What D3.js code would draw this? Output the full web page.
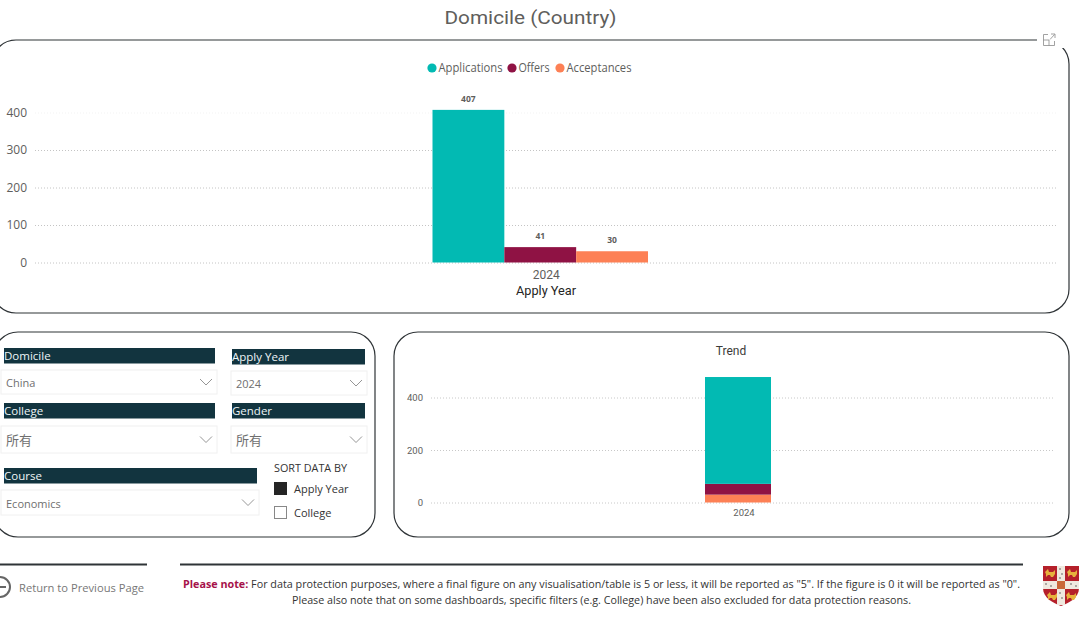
<!DOCTYPE html>
<html><head><meta charset="utf-8">
<script src="https://cdn.jsdelivr.net/npm/d3@7/dist/d3.min.js"></script>
<style>html,body{margin:0;padding:0;background:#fff;overflow:hidden}svg{display:block}text{font-family:"Open Sans","Noto Sans",sans-serif}</style>
</head><body><svg id="c" width="1080" height="642"></svg>
<script>
const years = ["2024"];
const seriesNames = ["Applications","Offers","Acceptances"];
const applications = [407];
const offers = [41];
const acceptances = [30];
const seriesColors = ["#02BAB3","#8F1244","#FD8055"];
const mainTicks = [0,100,200,300,400];
const trendTicks = [0,200,400];
const legendCirclesX = [432,512,560];
const slicers = [
 {title:"Domicile",value:"China",hx:4,hy:348,hw:211,bx:1,by:370,bw:216,bh:24},
 {title:"Apply Year",value:"2024",hx:232,hy:349,hw:133,bx:231,by:371,bw:136,bh:24},
 {title:"College",value:"所有",hx:4,hy:403,hw:211,bx:1,by:426,bw:216,bh:27},
 {title:"Gender",value:"所有",hx:232,hy:403,hw:133,bx:231,by:426,bw:136,bh:27},
 {title:"Course",value:"Economics",hx:4,hy:468,hw:253,bx:1,by:490,bw:258,bh:25}
];
const svg = d3.select("#c");
const GREY="#605E5C", DIN='"Roboto","Noto Sans",sans-serif';
const byName = {Applications:applications,Offers:offers,Acceptances:acceptances};

svg.append("text").attr("x",530.5).attr("y",24).attr("text-anchor","middle").attr("font-size",19)
  .attr("fill",GREY).style("font-family",DIN).attr("textLength",172).attr("lengthAdjust","spacingAndGlyphs").text("Domicile (Country)");

function panel(x,y,w,h,r){svg.append("rect").attr("x",x).attr("y",y).attr("width",w).attr("height",h).attr("rx",r)
  .attr("fill","#fff").attr("stroke","#2f3437").attr("stroke-width",1.2);}
panel(-8,40,1077,273,24);
panel(-6,332,381,205,24);
panel(394,332,675,205,24);

// expand icon
svg.append("rect").attr("x",1037).attr("y",30).attr("width",28).attr("height",18).attr("fill","#fff");
svg.append("path").attr("d","M1048 34.5H1043.5V45.5H1054.5V41M1043.5 40H1049V45.5M1050 39.5L1054.5 34.5M1051 34H1055V38")
  .attr("fill","none").attr("stroke","#8a8a8a").attr("stroke-width",.8);

// legend
const lg=svg.append("g");
const legendTextW=[64,31,65];
seriesNames.forEach((n,i)=>{
  lg.append("circle").attr("cx",legendCirclesX[i]).attr("cy",68).attr("r",4.6).attr("fill",seriesColors[i]);
  lg.append("text").attr("x",legendCirclesX[i]+6.5).attr("y",72).attr("font-size",12).attr("fill",GREY)
    .attr("textLength",legendTextW[i]).attr("lengthAdjust","spacingAndGlyphs").text(n);
});

// main chart
const y=d3.scaleLinear().domain([0,400]).range([262.5,112.5]);
const x0=d3.scaleBand().domain(years).range([432.5,648]);
const x1=d3.scaleBand().domain(seriesNames).range([0,x0.bandwidth()]);
const gridW=1023;
const ax=svg.append("g").attr("transform","translate(35,0)")
  .call(d3.axisLeft(y).tickValues(mainTicks).tickFormat(d3.format("d")).tickSize(-gridW).tickPadding(8));
ax.select(".domain").remove();
ax.selectAll("line").attr("stroke",d=>d===400?"#f3f3f3":"#c4c4c4").attr("stroke-dasharray","1 2");
ax.selectAll("text").attr("font-size",12).attr("fill",GREY).style("font-family",'"Open Sans",sans-serif');
const grp=svg.append("g");
seriesNames.forEach((n,i)=>{
  years.forEach((yr,j)=>{
    const v=byName[n][j];
    grp.append("rect").attr("x",x0(yr)+x1(n)).attr("y",y(v)).attr("width",x1.bandwidth()).attr("height",y(0)-y(v)).attr("fill",seriesColors[i]);
    grp.append("text").attr("x",x0(yr)+x1(n)+x1.bandwidth()/2).attr("y",y(v)-8).attr("text-anchor","middle")
      .attr("font-size",8.5).attr("font-weight",700).attr("fill",GREY).text(v);
  });
});
const bx=svg.append("g").attr("transform","translate(6,263)").call(d3.axisBottom(x0).tickSize(0).tickPadding(7));
bx.select(".domain").remove();
bx.selectAll("text").attr("font-size",12).attr("fill",GREY).style("font-family",DIN);
svg.append("text").attr("x",546).attr("y",295).attr("text-anchor","middle").attr("font-size",12.5).attr("fill","#252423")
  .style("font-family",DIN).attr("textLength",60).attr("lengthAdjust","spacingAndGlyphs").text("Apply Year");

// trend chart
svg.append("text").attr("x",731).attr("y",355).attr("text-anchor","middle").attr("font-size",12).attr("fill","#3b3a39")
  .style("font-family",DIN).text("Trend");
const ty=d3.scaleLinear().domain([0,400]).range([502.5,397.5]);
const tx=d3.scaleBand().domain(years).range([705,771]);
const tax=svg.append("g").attr("transform","translate(431,0)")
  .call(d3.axisLeft(ty).tickValues(trendTicks).tickFormat(d3.format("d")).tickSize(-623).tickPadding(8));
tax.select(".domain").remove();
tax.selectAll("line").attr("stroke","#c8c8c8").attr("stroke-dasharray","1 2");
tax.selectAll("text").attr("font-size",9.5).attr("fill",GREY).style("font-family",DIN);
const stackRows=years.map((yr,i)=>({year:yr,Applications:applications[i],Offers:offers[i],Acceptances:acceptances[i]}));
const stackOrder=["Acceptances","Offers","Applications"];
const st=d3.stack().keys(stackOrder)(stackRows);
svg.append("g").selectAll("g").data(st).join("g").attr("fill",d=>seriesColors[seriesNames.indexOf(d.key)])
 .selectAll("rect").data(d=>d).join("rect")
 .attr("x",d=>tx(d.data.year)).attr("width",tx.bandwidth()).attr("y",d=>ty(d[1])).attr("height",d=>ty(d[0])-ty(d[1]));
const tbx=svg.append("g").attr("transform","translate(6,502)").call(d3.axisBottom(tx).tickSize(0).tickPadding(7));
tbx.select(".domain").remove();
tbx.selectAll("text").attr("font-size",9.5).attr("fill",GREY).style("font-family",DIN);

// slicers
slicers.forEach(s=>{
  svg.append("rect").attr("x",s.hx).attr("y",s.hy).attr("width",s.hw).attr("height",15.5).attr("fill","#12343F");
  svg.append("text").attr("x",s.hx).attr("y",s.hy+12).attr("font-size",11.5).attr("fill","#eef4f7").text(s.title);
  svg.append("rect").attr("x",s.bx).attr("y",s.by).attr("width",s.bw).attr("height",s.bh).attr("fill","#fff").attr("stroke","#f0f0f0");
  const cy=s.by+s.bh/2;
  svg.append("text").attr("x",s.bx+5).attr("y",cy+5).attr("font-size",s.value==="所有"?13:11)
    .style("font-family",s.value==="所有"?'"Noto Sans CJK SC"':'"Open Sans"').attr("fill","#6f6f6f").text(s.value);
  const ex=s.bx+s.bw-5;
  svg.append("path").attr("d",`M${ex-12} ${cy-3}L${ex-6} ${cy+3}L${ex} ${cy-3}`).attr("fill","none").attr("stroke","#8a8a8a").attr("stroke-width",.9);
});
svg.append("text").attr("x",274).attr("y",472).attr("font-size",10.8).attr("fill","#333").text("SORT DATA BY");
svg.append("rect").attr("x",274).attr("y",482).attr("width",13).attr("height",13).attr("fill","#252525");
svg.append("text").attr("x",294).attr("y",493).attr("font-size",11).attr("fill","#333").text("Apply Year");
svg.append("rect").attr("x",274.5).attr("y",506.5).attr("width",12).attr("height",12).attr("fill","#fff").attr("stroke","#888");
svg.append("text").attr("x",294).attr("y",517).attr("font-size",11).attr("fill","#333").text("College");

// footer
svg.append("path").attr("d","M0 564.5H147M180 564.5H1023").attr("stroke","#2f3437").attr("stroke-width",1.8);
svg.append("circle").attr("cx",0).attr("cy",587).attr("r",10).attr("fill","none").attr("stroke","#666").attr("stroke-width",2);
svg.append("path").attr("d","M0 587H6").attr("stroke","#666").attr("stroke-width",2);
svg.append("text").attr("x",19).attr("y",592).attr("font-size",11.5).attr("fill","#777")
  .attr("textLength",125).attr("lengthAdjust","spacingAndGlyphs").text("Return to Previous Page");
const n1=svg.append("text").attr("x",183).attr("y",588).attr("font-size",11).attr("fill","#333")
  .attr("textLength",837).attr("lengthAdjust","spacingAndGlyphs");
n1.append("tspan").attr("font-weight",700).attr("fill","#A6124A").text("Please note:");
n1.append("tspan").text(" For data protection purposes, where a final figure on any visualisation/table is 5 or less, it will be reported as \"5\". If the figure is 0 it will be reported as \"0\".");
svg.append("text").attr("x",292).attr("y",604).attr("font-size",11).attr("fill","#333")
  .attr("textLength",619).attr("lengthAdjust","spacingAndGlyphs")
  .text("Please also note that on some dashboards, specific filters (e.g. College) have been also excluded for data protection reasons.");

// crest
const cr=svg.append("g").attr("transform","translate(1043,566)");
cr.append("path").attr("d","M0 0H36V22C36 32 26 37 18 40C10 37 0 32 0 22Z").attr("fill","#B5202A");
cr.append("path").attr("d","M14 0H22V39H14ZM0 15H36V23H0Z").attr("fill","#efe9df");
cr.append("rect").attr("x",14).attr("y",15).attr("width",8).attr("height",8).attr("fill","#C9683A");
[[2,3],[24,3],[4,26],[23,26]].forEach(p=>cr.append("path").attr("transform",`translate(${p[0]},${p[1]})`)
  .attr("d","M0 3L3 0L4 3H8L10 1V5L8 8H6L5 6H3L1 8V5Z").attr("fill","#E6B23C"));
[[17,3],[19,8],[17,12],[3,18],[8,20],[28,18],[33,20],[17,27],[19,32]].forEach(p=>cr.append("circle").attr("cx",p[0]).attr("cy",p[1]).attr("r",.8).attr("fill","#555"));
</script></body></html>
